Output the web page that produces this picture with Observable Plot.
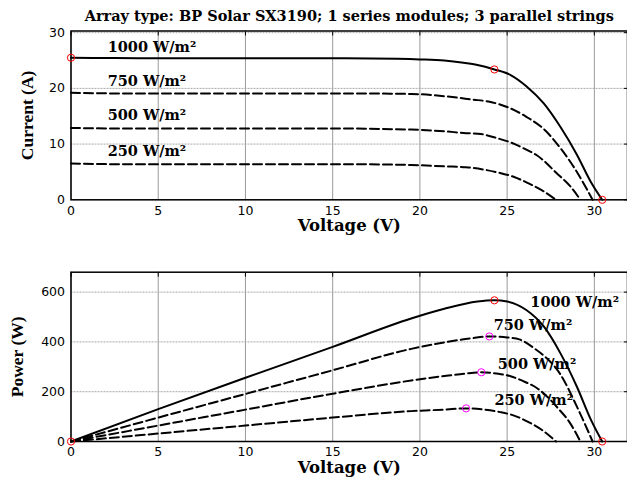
<!DOCTYPE html>
<html><head><meta charset="utf-8">
<script src="https://cdn.jsdelivr.net/npm/d3@7"></script>
<script src="https://cdn.jsdelivr.net/npm/@observablehq/plot@0.6"></script>
<style>
body{margin:0;background:#fff;}
#wrap{position:relative;width:627px;height:483px;overflow:hidden;background:#fff}
#top{position:absolute;left:0;top:0}
#bot{position:absolute;left:0;top:241px}
</style></head>
<body><div id="wrap"><div id="top"></div><div id="bot"></div></div>
<script>
// ---------- data ----------
const titleText = "Array type: BP Solar SX3190; 1 series modules; 3 parallel strings";
const xLabel = "Voltage (V)";
const iLabel = "Current (A)";
const pLabel = "Power (W)";
const seriesNames = ["1000 W/m²", "750 W/m²", "500 W/m²", "250 W/m²"];

const xTicks = [0, 5, 10, 15, 20, 25, 30];
const iTicks = [0, 10, 20, 30];
const pTicks = [0, 200, 400, 600];

// I-V curves
const v1000iv = [0, 2.5, 5, 10, 15, 18.7, 20, 21.4, 22.5, 23.3, 24.27, 25.2, 26.1, 27.1, 28.05, 29.0, 29.8, 30.45];
const i1000iv = [25.5, 25.45, 25.4, 25.4, 25.4, 25.3, 25.2, 25.0, 24.6, 24.2, 23.4, 22.4, 20.4, 17.3, 13.1, 8.1, 3.2, 0];
const v750iv  = [0, 2.5, 5, 10, 15, 19.5, 21.4, 23.0, 24.0, 25.2, 26.1, 27.1, 28.05, 29.0, 29.9];
const i750iv  = [19.2, 19.1, 19.1, 19.1, 19.1, 19.0, 18.6, 18.0, 17.6, 16.4, 14.9, 12.7, 9.3, 5.0, 0];
const v500iv  = [0, 2.5, 5, 10, 15, 19.5, 21.4, 22.5, 23.5, 24.5, 25.2, 26.1, 26.7, 27.9, 28.6, 29.2];
const i500iv  = [12.9, 12.8, 12.8, 12.8, 12.8, 12.6, 12.3, 12.0, 11.8, 11.0, 10.3, 9.0, 8.0, 4.6, 2.5, 0];
const v250iv  = [0, 2.5, 5, 10, 15, 19.5, 21.4, 22.65, 23.7, 24.6, 25.4, 26.2, 27.0, 27.8];
const i250iv  = [6.5, 6.4, 6.4, 6.4, 6.4, 6.25, 6.0, 5.85, 5.4, 4.8, 4.1, 3.0, 1.7, 0];

// P-V curves
const v1000pv = [0, 5, 10, 15, 19.5, 21.4, 23.3, 24.27, 25.0, 26.1, 27.1, 28.05, 29.0, 29.8, 30.45];
const p1000pv = [0, 130, 256, 380, 494, 533, 562, 567, 562, 528, 462, 355, 220, 88, 0];
const v750pv  = [0, 5, 10, 15, 19.5, 21.4, 23.0, 24.0, 25.0, 25.7, 26.6, 27.1, 28.05, 29.0, 29.9];
const p750pv  = [0, 96, 191, 286, 372, 398, 415, 422, 418, 410, 372, 345, 270, 140, 0];
const v500pv  = [0, 5, 10, 15, 19.5, 21.4, 22.6, 23.5, 24.5, 25.2, 26.0, 26.7, 27.3, 27.9, 28.6, 29.2];
const p500pv  = [0, 64, 128, 192, 245, 263, 273, 278, 272, 262, 240, 215, 180, 135, 75, 0];
const v250pv  = [0, 5, 10, 15, 19.5, 21.4, 22.65, 23.7, 24.6, 25.4, 26.2, 27.0, 27.8];
const p250pv  = [0, 32, 64, 96, 122, 128, 133, 128, 118, 104, 79, 46, 0];

// markers
const ivMarkV = [0, 24.27, 30.45];
const ivMarkI = [25.5, 23.4, 0];
const pvRedV = [0, 24.27, 30.45];
const pvRedP = [0, 567, 0];
const pvMagV = [23.98, 23.52, 22.65];
const pvMagP = [422, 278, 133];

// label anchors
const ivLabelV = [2.1, 2.1, 2.1, 2.1];
const ivLabelI = [26.6, 20.5, 14.3, 7.8];
const pvLabelV = [26.33, 24.23, 24.46, 24.27];
const pvLabelP = [539, 446, 292, 145];

// ---------- build tables ----------
const ivV = [v1000iv, v750iv, v500iv, v250iv];
const ivI = [i1000iv, i750iv, i500iv, i250iv];
const pvV = [v1000pv, v750pv, v500pv, v250pv];
const pvP = [p1000pv, p750pv, p500pv, p250pv];

const ivRows = seriesNames.flatMap((s, k) => ivV[k].map((v, j) => ({s, v, y: ivI[k][j]})));
const pvRows = seriesNames.flatMap((s, k) => pvV[k].map((v, j) => ({s, v, y: pvP[k][j]})));
const ivMarks = ivMarkV.map((v, j) => ({v, y: ivMarkI[j]}));
const pvRed = pvRedV.map((v, j) => ({v, y: pvRedP[j]}));
const pvMag = pvMagV.map((v, j) => ({v, y: pvMagP[j]}));
const ivLabels = seriesNames.map((s, k) => ({s, v: ivLabelV[k], y: ivLabelI[k]}));
const pvLabels = seriesNames.map((s, k) => ({s, v: pvLabelV[k], y: pvLabelP[k]}));

const serifW = "DejaVu Serif";
const serifT = "Liberation Serif";

function panel(rows, yDomain, yTicks, yLab, yLabDx, marksRed, marksMag, labels, height, mt, mb, withTitle) {
  const solid = rows.filter(d => d.s === seriesNames[0]);
  const dashed = rows.filter(d => d.s !== seriesNames[0]);
  const marks = [
    Plot.gridX(xTicks, {stroke: "#9a9a9a", strokeOpacity: 1, strokeWidth: 1}),
    Plot.gridY(yTicks, {stroke: "#a8a8a8", strokeOpacity: 1, strokeWidth: 1, strokeDasharray: "2,1"}),
    Plot.axisX(xTicks, {anchor: "bottom", tickSize: 0, tickPadding: 6, label: null, fontFamily: "DejaVu Sans", fontSize: 12.5}),
    Plot.axisY(yTicks, {anchor: "left", tickSize: 0, tickPadding: 6, label: null, fontFamily: "DejaVu Sans", fontSize: 12.5}),
    Plot.axisX(xTicks, {anchor: "top", tickSize: -4, tickFormat: () => "", label: null}),
    Plot.axisY(yTicks, {anchor: "right", tickSize: -4, tickFormat: () => "", label: null}),
    Plot.frame({stroke: "black", strokeWidth: 1.5}),
    Plot.line(solid, {x: "v", y: "y", stroke: "black", strokeWidth: 2, curve: "monotone-x"}),
    Plot.line(dashed, {x: "v", y: "y", z: "s", stroke: "black", strokeWidth: 2, strokeDasharray: "9,4", curve: "monotone-x"}),
    Plot.dot(marksRed, {x: "v", y: "y", r: 3.6, stroke: "#ff0000", fill: "none", strokeWidth: 1}),
    Plot.dot(marksMag, {x: "v", y: "y", r: 3.6, stroke: "#ff00ff", fill: "none", strokeWidth: 1}),
    Plot.text(labels, {x: "v", y: "y", text: "s", textAnchor: "start", lineAnchor: "bottom", fontFamily: serifW, fontWeight: "bold", fontSize: 14.5, fill: "black"}),
    Plot.text([xLabel], {frameAnchor: "bottom", textAnchor: "middle", dy: 31, lineAnchor: "bottom", fontFamily: serifW, fontWeight: "bold", fontSize: 16.5, fill: "black"}),
    Plot.text([yLab], {frameAnchor: "left", textAnchor: "middle", lineAnchor: "middle", dx: yLabDx, rotate: -90, fontFamily: serifT, fontWeight: "bold", fontSize: 17.5, fill: "black"})
  ];
  if (withTitle) marks.push(Plot.text([titleText], {frameAnchor: "top", textAnchor: "middle", dy: -10, lineAnchor: "bottom", fontFamily: serifW, fontWeight: "bold", fontSize: 14.5, fill: "black"}));
  return Plot.plot({
    width: 627, height, marginTop: mt, marginBottom: mb, marginLeft: 70.5, marginRight: 0,
    x: {domain: [0, 31.9]},
    y: {domain: yDomain},
    style: {background: "white", color: "black", overflow: "visible"},
    marks
  });
}

document.getElementById("top").append(
  panel(ivRows, [0, 30.3], iTicks, iLabel, -44, ivMarks, [], ivLabels, 241, 30.5, 41.7, true)
);
document.getElementById("bot").append(
  panel(pvRows, [0, 680], pTicks, pLabel, -54, pvRed, pvMag, pvLabels, 242, 30.7, 42, false)
);
</script>
</body></html>
